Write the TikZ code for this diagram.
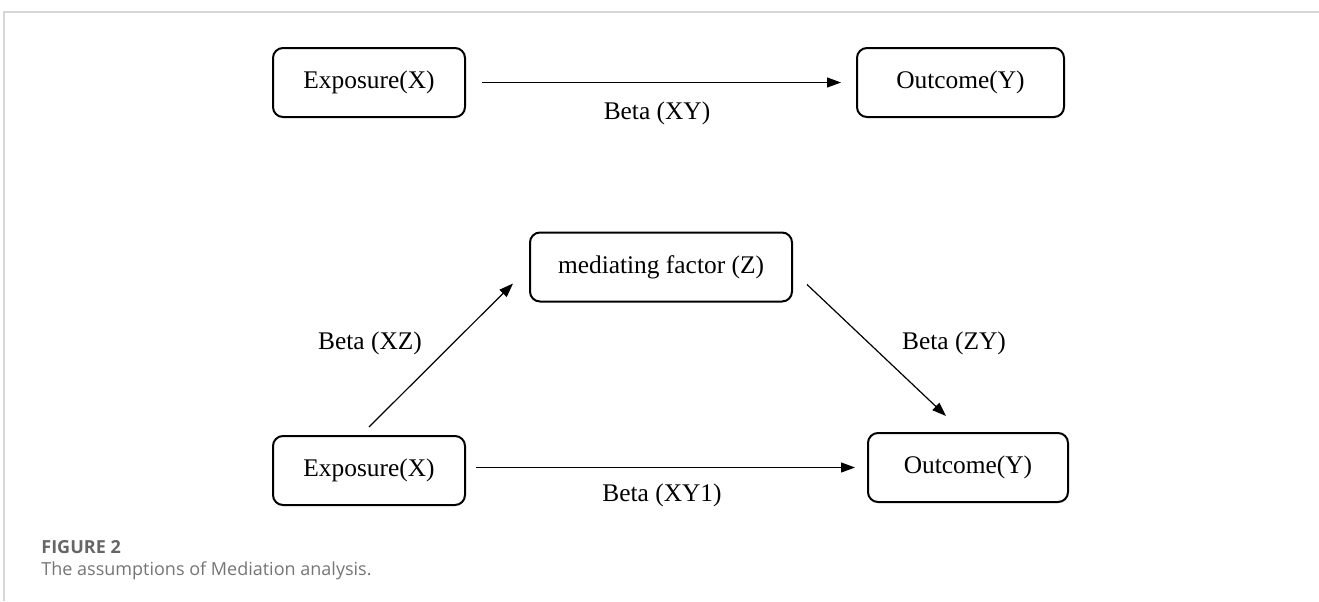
\documentclass[tikz,border=0pt]{standalone}
\usepackage{fontspec}
\setmainfont{Liberation Serif}
\newfontfamily\capfont{Open Sans}
\usetikzlibrary{arrows.meta}
\definecolor{rulegray}{HTML}{D6D6D6}
\definecolor{capgray}{HTML}{666666}
\begin{document}
\begin{tikzpicture}[x=0.5pt,y=-0.5pt,
  box/.style={draw=black, line width=1pt, rounded corners=5pt, minimum height=34.5pt, font=\fontsize{12.7}{15}\selectfont},
  arr/.style={-{Triangle[length=7pt,width=5pt]}, line width=0.6pt},
  lab/.style={font=\fontsize{12.7}{15}\selectfont},
  captext/.style={anchor=base west, inner sep=0pt, font=\capfont\fontsize{9}{10}\selectfont}]
\useasboundingbox (0,0) rectangle (1319,601);
\draw[rulegray, line width=1pt] (3.5,601) -- (3.5,11.5) -- (1319,11.5);
% top: total effect
\node[box, minimum width=96pt] (X1) at (369,82.5) {Exposure(X)};
\node[box, minimum width=103.5pt] (Y1) at (960.5,82.5) {Outcome(Y)};
\draw[arr, shorten <=8pt, shorten >=7.5pt] (X1) -- (Y1);
\node[lab] (bXY) at (657,113) {Beta (XY)};
% bottom: mediation
\node[box, minimum width=131pt] (Z) at (661,267) {mediating factor (Z)};
\node[box, minimum width=96pt] (X2) at (369,470.5) {Exposure(X)};
\node[box, minimum width=100pt] (Y2) at (968,467.5) {Outcome(Y)};
\draw[arr, shorten <=5pt, shorten >=6pt] (X2.east |- Y2) -- (Y2);
\draw[arr] ([yshift=4pt]X2.north) -- ([xshift=-8pt,yshift=9.5pt]Z.south west);
\draw[arr] ([xshift=7pt,yshift=9pt]Z.south east) -- ([xshift=-11pt,yshift=8pt]Y2.north);
\node[lab] (bXZ) at (370,343) {Beta (XZ)};
\node[lab] (bZY) at (954,343) {Beta (ZY)};
\node[lab] (bXY1) at (662,495) {Beta (XY1)};
% caption
\node[captext, text=capgray] (fig) at (41,553) {\bfseries FIGURE 2};
\node[captext, text=capgray!90] (cap) at (41,575) {The assumptions of Mediation analysis.};
\end{tikzpicture}
\end{document}
